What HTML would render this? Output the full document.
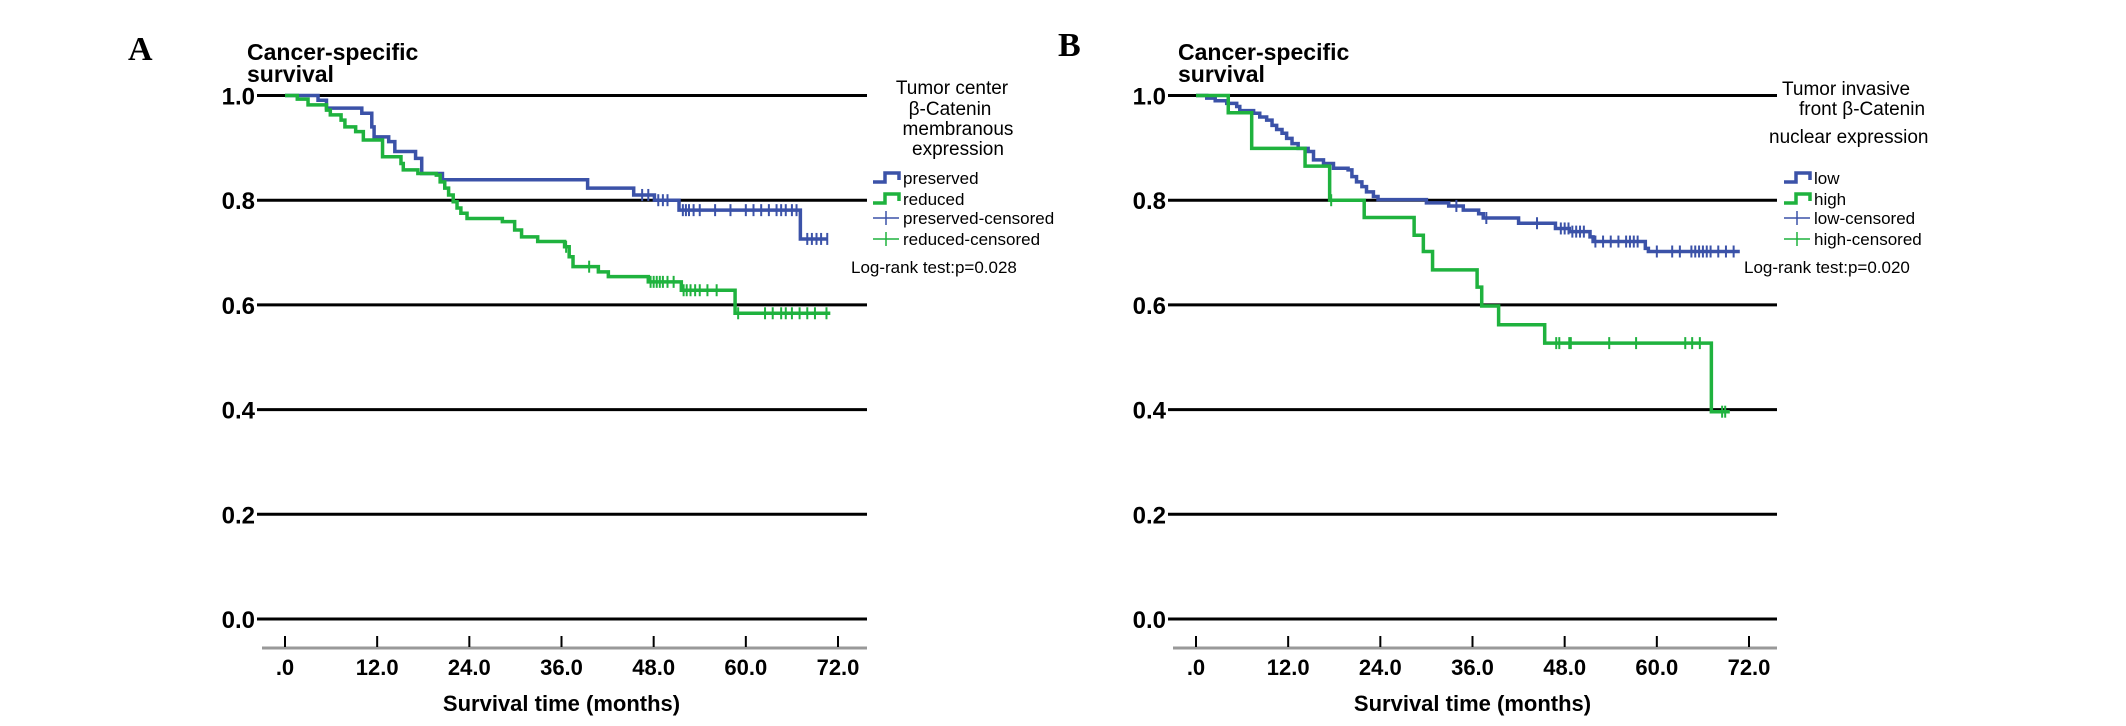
<!DOCTYPE html>
<html><head><meta charset="utf-8">
<style>
html,body{margin:0;padding:0;background:#fff;}
svg{display:block;}
text{font-family:"Liberation Sans",Arial,sans-serif;}
.bold{font-weight:bold;}
.narrow{font-family:"Liberation Sans Narrow","Liberation Sans",sans-serif;}
</style></head>
<body>
<svg id="chart" width="2126" height="726" viewBox="0 0 2126 726" xmlns="http://www.w3.org/2000/svg">
  <text x="128" y="60" style="font-family:'Liberation Serif',serif;font-weight:bold;font-size:34px">A</text>
  <text x="1058" y="56" style="font-family:'Liberation Serif',serif;font-weight:bold;font-size:34px">B</text>
  <g id="panelA"></g>
  <g id="panelB"></g>
</svg>
<script>
// ---------- data ----------
const yTicks = [0, 0.2, 0.4, 0.6, 0.8, 1.0];
const yTickLabels = ["0.0","0.2","0.4","0.6","0.8","1.0"];
const xTicks = [0, 12, 24, 36, 48, 60, 72];
const xTickLabels = [".0","12.0","24.0","36.0","48.0","60.0","72.0"];

// Panel A: preserved (blue)
const aPresTimes = [4.3,5.4,10.0,11.3,11.6,13.5,14.3,17.0,17.8,20.5,39.4,45.4,48.1,51.3,67.1];
const aPresSurv  = [0.991,0.976,0.966,0.940,0.921,0.912,0.893,0.880,0.851,0.839,0.823,0.810,0.800,0.781,0.726];
const aPresCens  = [46.5,47.3,48.6,49.2,49.8,51.8,52.2,52.6,53.2,54,56,58,60,61,62,63,64,64.6,65.2,66,66.6,68,68.6,69.2,69.8,70.6];
const aPresEnd = 70.6;
// Panel A: reduced (green)
const aRedTimes = [1.6,3.0,5.4,5.9,7.3,7.8,9.2,10.2,12.7,15.1,15.4,17.3,19.7,20.2,20.8,21.3,21.9,22.4,22.9,23.7,28.3,29.9,30.8,32.9,36.4,37.0,37.5,40.8,42.1,47.3,51.6,58.6];
const aRedSurv  = [0.993,0.982,0.972,0.963,0.953,0.940,0.931,0.915,0.883,0.870,0.858,0.851,0.848,0.835,0.823,0.810,0.797,0.785,0.775,0.765,0.759,0.743,0.730,0.721,0.711,0.692,0.673,0.663,0.654,0.644,0.628,0.584];
const aRedCens  = [36.6,39.6,47.6,48.0,48.4,48.8,49.2,49.8,50.6,51.9,52.3,52.8,53.4,54,55,56.2,59,62.5,63.5,64.6,65.2,66,67,68,69,70.5];
const aRedEnd = 71;

// Panel B: low (blue)
const bLowTimes = [1.4,2.5,4.0,5.3,5.7,7.5,8.3,9.2,9.9,10.5,11.2,11.8,12.5,13.3,14.6,15.3,16.6,17.9,19.8,20.3,20.9,21.6,22.2,23.1,23.7,30.0,32.9,34.8,36.8,37.4,42.0,46.8,48.6,51.3,51.7,58.5,58.9];
const bLowSurv  = [0.995,0.990,0.985,0.979,0.971,0.966,0.959,0.953,0.943,0.935,0.928,0.918,0.908,0.899,0.893,0.877,0.870,0.861,0.858,0.845,0.835,0.826,0.816,0.807,0.801,0.795,0.789,0.781,0.774,0.766,0.756,0.746,0.740,0.730,0.721,0.708,0.702];
const bLowCens  = [33.9,37.8,44.4,47.5,48,48.5,49,49.5,50,50.5,52,53,54,55,56,56.5,57,57.5,60,62,63,64.5,65,65.5,66,66.5,67,68,69,70];
const bLowEnd = 70.8;
// Panel B: high (green)
const bHighTimes = [4.2,7.25,14.2,17.4,21.9,28.4,29.6,30.8,36.6,37.2,39.4,45.4,67.1];
const bHighSurv  = [0.967,0.899,0.865,0.800,0.767,0.733,0.702,0.667,0.634,0.598,0.562,0.527,0.396];
const bHighCens  = [17.6,46.9,47.3,48.6,48.8,53.8,57.3,63.7,64.6,65.6,68.5,68.9];
const bHighEnd = 69.5;

const BLUE = "#3b52a8", GREEN = "#1fb23e";
const NS = "http://www.w3.org/2000/svg";

function mk(tag, attrs, parent, txt){
  const e = document.createElementNS(NS, tag);
  for (const k in attrs) e.setAttribute(k, attrs[k]);
  if (txt !== undefined) e.textContent = txt;
  parent.appendChild(e);
  return e;
}

function yScale(v){ return 619 - 523.5 * v; }

function drawPanel(g, cfg){
  const xS = t => cfg.x0 + (cfg.x72 - cfg.x0) / 72 * t;
  const t1 = mk('text', {x: cfg.titleX, y: 60, 'font-size': 23, class: 'bold'}, g, 'Cancer-specific');
  
  
  const t2 = mk('text', {x: cfg.titleX, y: 82, 'font-size': 23, class: 'bold'}, g, 'survival');
  
  
  yTicks.forEach((v, i) => {
    const y = yScale(v);
    const ln = mk('line', {x1: cfg.gx1, x2: cfg.gx2, y1: y, y2: y, stroke: '#000', 'stroke-width': 3}, g);
    
    
    const lb = mk('text', {x: cfg.gx1 - 2, y: y + 9, 'font-size': 24, 'text-anchor': 'end', class: 'bold'}, g, yTickLabels[i]);
    
    
  });
  const ax = mk('line', {x1: cfg.gx1 + 5, x2: cfg.gx2, y1: 648, y2: 648, stroke: '#999', 'stroke-width': 3}, g);
  
  
  xTicks.forEach((t, i) => {
    const x = xS(t);
    const tk = mk('line', {x1: x, x2: x, y1: 636, y2: 647, stroke: '#000', 'stroke-width': 2}, g);
    
    
    const lb = mk('text', {x: x, y: 675, 'font-size': 22, 'text-anchor': 'middle', class: 'bold'}, g, xTickLabels[i]);
    
    
  });
  const xt = mk('text', {x: (cfg.x0 + cfg.x72) / 2, y: 711, 'font-size': 22, 'text-anchor': 'middle', class: 'bold'}, g, 'Survival time  (months)');
  
  
  xt.setAttribute('xml:space', 'preserve');
  cfg.series.forEach(s => {
    let d = 'M' + xS(0) + ',' + yScale(1);
    s.times.forEach((t, i) => {
      d += ' H' + xS(t) + ' V' + yScale(s.surv[i]);
    });
    d += ' H' + xS(s.end);
    const p = mk('path', {d: d, fill: 'none', stroke: s.color, 'stroke-width': 3.5}, g);
    
    
    s.cens.forEach(c => {
      let sv = 1;
      s.times.forEach((t, i) => { if (t <= c) sv = s.surv[i]; });
      const x = xS(c), y = yScale(sv);
      const m = mk('line', {x1: x, x2: x, y1: y - 6, y2: y + 6, stroke: s.color, 'stroke-width': 2}, g);
      
      
    });
  });
  cfg.legTitle.forEach(l => {
    const e = mk('text', {x: l[0], y: l[1], 'font-size': 19, 'text-anchor': l[2], class: 'narrow'}, g, l[3]);
    
    
  });
  const ys = [178, 199, 218, 239];
  cfg.legNames.forEach((nm, i) => {
    const y = ys[i], x = cfg.legX, col = (i % 2 === 0) ? BLUE : GREEN;
    const grp = mk('g', {}, g);
    
    
    if (i < 2) {
      mk('path', {d: `M${x},${y+4} H${x+12} V${y-5} H${x+26} V${y+2}`, fill: 'none', stroke: col, 'stroke-width': 3.5}, grp);
    } else {
      mk('line', {x1: x, x2: x + 26, y1: y, y2: y, stroke: col, 'stroke-width': 1.5}, grp);
      mk('line', {x1: x + 13, x2: x + 13, y1: y - 7, y2: y + 7, stroke: col, 'stroke-width': 1.5}, grp);
    }
    mk('text', {x: x + 30, y: y + 6, 'font-size': 17}, grp, nm);
  });
  const lr = mk('text', {x: cfg.lrX, y: 273, 'font-size': 17, class: 'narrow'}, g, cfg.lrText);
  
  
}

drawPanel(document.getElementById('panelA'), {
  x0: 285, x72: 838, gx1: 257, gx2: 867, titleX: 247,
  series: [
    {name: 'preserved', times: aPresTimes, surv: aPresSurv, cens: aPresCens, end: aPresEnd, color: BLUE},
    {name: 'reduced', times: aRedTimes, surv: aRedSurv, cens: aRedCens, end: aRedEnd, color: GREEN}
  ],
  legTitle: [[952, 94, 'middle', 'Tumor center'], [950, 115, 'middle', 'β-Catenin'], [958, 135, 'middle', 'membranous'], [958, 155, 'middle', 'expression']],
  legNames: ['preserved', 'reduced', 'preserved-censored', 'reduced-censored'],
  legX: 873, lrX: 851, lrText: 'Log-rank test:p=0.028'
});
drawPanel(document.getElementById('panelB'), {
  x0: 1196, x72: 1749, gx1: 1168, gx2: 1777, titleX: 1178,
  series: [
    {name: 'low', times: bLowTimes, surv: bLowSurv, cens: bLowCens, end: bLowEnd, color: BLUE},
    {name: 'high', times: bHighTimes, surv: bHighSurv, cens: bHighCens, end: bHighEnd, color: GREEN}
  ],
  legTitle: [[1782, 95, 'start', 'Tumor invasive'], [1799, 115, 'start', 'front  β-Catenin'], [1769, 143, 'start', 'nuclear expression']],
  legNames: ['low', 'high', 'low-censored', 'high-censored'],
  legX: 1784, lrX: 1744, lrText: 'Log-rank test:p=0.020'
});
</script>
</body></html>
